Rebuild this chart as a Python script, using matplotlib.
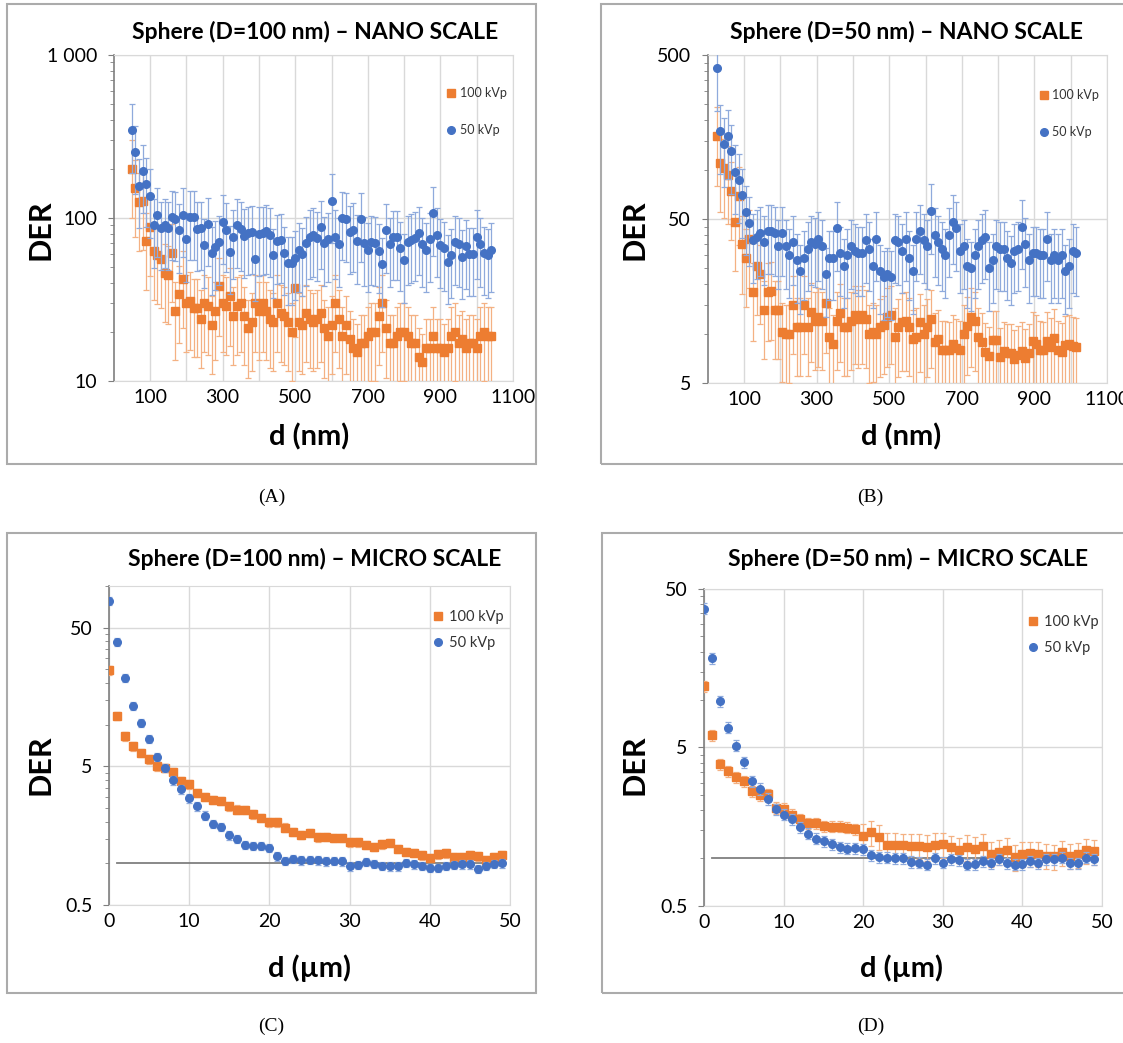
import matplotlib
matplotlib.use("Agg")
import matplotlib.pyplot as plt
from matplotlib.lines import Line2D
from matplotlib.patches import Rectangle
from matplotlib.ticker import FixedLocator, FixedFormatter, LogLocator, NullFormatter

plt.rcParams['font.family'] = ['Lato', 'DejaVu Sans']

W, H = 1123, 1043
ORANGE = "#ED7D31"
BLUE = "#4472C4"
ORANGE_ERR = "#F4B183"
BLUE_ERR = "#8FAADC"

# ---- (A) sphere D=100 nm, nano scale: d in nm
d_a = list(range(50, 1050, 10))
kvp100_a = [200, 152, 126, 127, 72, 88, 63, 59, 56, 46,
            45, 61, 27, 34, 42, 30, 31, 28, 28, 24,
            30, 29, 22, 27, 38, 30, 29, 33, 25, 29,
            30, 25, 21, 23, 30, 27, 30, 27, 24, 23,
            30, 26, 25, 23, 20, 37, 23, 22, 26, 24,
            23, 24, 26, 21, 19, 22, 30, 24, 19, 22,
            18, 16, 15, 17, 17, 19, 20, 20, 25, 30,
            21, 17, 17, 19, 20, 20, 19, 17, 17, 14,
            13, 16, 16, 19, 16, 16, 15, 16, 19, 20,
            17, 18, 16, 17, 17, 16, 19, 20, 19, 19]
kvp50_a = [345, 254, 158, 194, 161, 137, 90, 105, 87, 90,
           87, 101, 99, 84, 105, 74, 101, 101, 86, 87,
           68, 92, 61, 66, 71, 95, 85, 62, 77, 90,
           86, 78, 81, 82, 56, 80, 81, 83, 79, 59,
           72, 73, 61, 53, 53, 57, 64, 60, 70, 77,
           79, 75, 88, 70, 74, 128, 77, 69, 100, 98,
           82, 85, 72, 98, 70, 64, 71, 70, 63, 52,
           84, 69, 76, 76, 65, 55, 71, 73, 75, 81,
           69, 64, 74, 107, 79, 68, 65, 54, 59, 71,
           69, 58, 67, 60, 60, 77, 69, 61, 59, 64]
err100_a = [0.5] * len(d_a)
err50_a = [0.45] * len(d_a)

# ---- (B) sphere D=50 nm, nano scale: d in nm
d_b = list(range(25, 1025, 10))
kvp100_b = [160, 110, 102, 93, 74, 48, 69, 35, 29, 38,
            18, 26, 23, 14, 18, 18.3, 14, 14, 10.2, 9.9,
            10, 15, 11, 11, 15, 11, 13.5, 12, 12.6, 12,
            15.3, 9.5, 8.6, 12, 13.4, 11, 11, 12, 13, 12.3,
            13, 12.3, 10, 10.2, 9.9, 10.9, 11.3, 12.6, 13, 9.6,
            10.9, 11.8, 11.9, 11, 9.3, 9.6, 11.7, 9.9, 10.9, 12.3,
            8.9, 9.3, 8.0, 8.0, 7.9, 8.7, 8.2, 8.0, 9.9, 11.2,
            12.6, 11.9, 9.6, 8.9, 7.7, 7.3, 9.2, 9.1, 7.2, 7.8,
            7.6, 7.6, 7.0, 7.4, 7.8, 7.1, 7.6, 9.0, 8.6, 8.0,
            7.9, 9.0, 8.3, 9.4, 8.0, 7.7, 8.5, 8.7, 8.4, 8.3]
kvp50_b = [417, 171, 143, 160, 129, 97, 86, 70, 55, 47,
           37, 39, 41, 36, 42, 42, 41, 34, 41, 34,
           30, 36, 28, 24, 29, 33, 36, 35, 38, 34,
           23, 29, 29, 44, 31, 26, 30, 34, 32, 31,
           31, 37, 33, 26, 38, 24, 22, 23, 22, 37,
           36, 32, 38, 29, 24, 38, 42, 37, 34, 56,
           40, 36, 33, 30, 40, 48, 44, 32, 34, 26,
           25, 30, 34, 37, 39, 25, 28, 34, 33, 33,
           29, 27, 32, 33, 45, 35, 28, 31, 31, 30,
           30, 38, 28, 30, 28, 30, 24, 26, 32, 31]
err100_b = [0.5] * len(d_b)
err50_b = [0.45] * len(d_b)

# ---- (C) sphere D=100 nm, micro scale: d in um
d_c = list(range(0, 50))
kvp100_c = [24.7, 11.6, 8.24, 6.97, 6.24, 5.61, 5.0, 4.89, 4.58, 3.90,
            3.71, 3.23, 3.02, 2.87, 2.82, 2.58, 2.44, 2.43, 2.26, 2.12,
            1.98, 1.97, 1.81, 1.68, 1.61, 1.66, 1.54, 1.55, 1.53, 1.53,
            1.42, 1.42, 1.36, 1.31, 1.37, 1.40, 1.27, 1.21, 1.19, 1.14,
            1.09, 1.16, 1.18, 1.11, 1.11, 1.14, 1.12, 1.05, 1.11, 1.14]
kvp50_c = [78.5, 39.6, 21.8, 13.6, 10.3, 7.9, 5.84, 4.87, 3.96, 3.41,
           2.95, 2.57, 2.21, 1.93, 1.83, 1.59, 1.50, 1.36, 1.33, 1.33,
           1.29, 1.12, 1.04, 1.08, 1.05, 1.06, 1.05, 1.03, 1.04, 1.03,
           0.95, 0.97, 1.02, 0.99, 0.96, 0.95, 0.95, 1.01, 0.98, 0.96,
           0.93, 0.93, 0.96, 0.97, 0.98, 0.98, 0.91, 0.96, 0.99, 1.00]
err100_c = [0.07] * len(d_c)
err50_c = [0.07] * len(d_c)

# ---- (D) sphere D=50 nm, micro scale: d in um
d_d = list(range(0, 50))
kvp100_d = [12.1, 5.98, 3.90, 3.54, 3.25, 3.07, 2.64, 2.50, 2.54, 2.08,
            2.05, 1.88, 1.76, 1.67, 1.67, 1.60, 1.58, 1.58, 1.56, 1.53,
            1.39, 1.46, 1.37, 1.22, 1.22, 1.21, 1.20, 1.20, 1.18, 1.22,
            1.23, 1.17, 1.13, 1.18, 1.15, 1.20, 1.07, 1.10, 1.13, 1.02,
            1.07, 1.08, 1.07, 1.04, 1.03, 1.09, 1.04, 1.06, 1.12, 1.11]
kvp50_d = [37.4, 18.3, 9.8, 6.65, 5.12, 4.04, 3.05, 2.74, 2.37, 2.04,
           1.88, 1.77, 1.57, 1.43, 1.33, 1.28, 1.23, 1.18, 1.15, 1.16,
           1.14, 1.05, 1.02, 1.01, 1.00, 1.00, 0.95, 0.94, 0.91, 1.00,
           0.94, 0.99, 0.97, 0.91, 0.92, 0.96, 0.93, 0.99, 0.93, 0.91,
           0.92, 0.96, 0.93, 0.99, 0.99, 1.01, 0.93, 0.93, 1.01, 0.99]
err100_d = [0.08] * 20 + [0.18] * 30
err50_d = [0.08] * len(d_d)

fig = plt.figure(figsize=(W / 100, H / 100), dpi=100)


def rect(x0, y0, x1, y1):
    return [x0 / W, 1 - y1 / H, (x1 - x0) / W, (y1 - y0) / H]


def fx(x):
    return x / W


def fy(y):
    return 1 - y / H


def panel(area, box, title, tx, ty, d, o, oe, b, be, xlim, xlabels_at, xgrid,
          ylim, yt, ylab, subs, xlabel, der_x, der_y, lab_y, leg, leg_fs,
          leg_sp, ms, cap, ref=False):
    # chart border
    fig.patches.append(Rectangle((fx(box[0]), fy(box[3])),
                                 (box[2] - box[0]) / W, (box[3] - box[1]) / H,
                                 transform=fig.transFigure, fill=False,
                                 ec="#ABABAB", lw=1.5))
    ax = fig.add_axes(rect(*area))
    ax.set_yscale("log")
    oerr = [v * f for v, f in zip(o, oe)]
    berr = [v * f for v, f in zip(b, be)]
    ax.errorbar(d, o, yerr=oerr, fmt="s", ms=ms, color=ORANGE, mec=ORANGE,
                ecolor=ORANGE_ERR, elinewidth=0.9, capsize=2.2, capthick=0.9,
                zorder=3)
    ax.errorbar(d, b, yerr=berr, fmt="o", ms=ms, color=BLUE, mec=BLUE,
                ecolor=BLUE_ERR, elinewidth=0.9, capsize=2.2, capthick=0.9,
                zorder=4)
    if ref:
        ax.plot([1, 49], [1, 1], color="#7F7F7F", lw=1.3, zorder=2)
    ax.set_xlim(*xlim)
    ax.set_ylim(*ylim)
    ax.set_xticks(xlabels_at)
    ax.set_xticklabels([str(v) for v in xlabels_at])
    ax.set_xticks(xgrid, minor=True)
    ax.yaxis.set_major_locator(FixedLocator(yt))
    ax.yaxis.set_major_formatter(FixedFormatter(ylab))
    ax.yaxis.set_minor_locator(LogLocator(base=10, subs=subs, numticks=50))
    ax.yaxis.set_minor_formatter(NullFormatter())
    ax.grid(axis="x", which="both", color="#D9D9D9", lw=1.0, zorder=0)
    ax.grid(axis="y", which="major", color="#D9D9D9", lw=1.0, zorder=0)
    ax.set_axisbelow(True)
    ax.tick_params(axis="x", which="both", length=0, labelsize=14, pad=6)
    ax.tick_params(axis="y", which="major", length=4, color="#7F7F7F",
                   labelsize=14, pad=8)
    ax.tick_params(axis="y", which="minor", length=3, color="#7F7F7F")
    for s in ("top", "right", "bottom"):
        ax.spines[s].set_color("#D9D9D9")
    ax.spines["left"].set_color("#7F7F7F")
    ax.spines["left"].set_linewidth(1.2)

    fig.text(fx(tx), fy(ty), title, ha="center", va="center",
             fontsize=16.5, fontweight="bold")
    fig.text(fx(der_x), fy(der_y), "DER", ha="center", va="center",
             rotation=90, fontsize=22, fontweight="bold")
    fig.text(fx(tx - 6), fy(lab_y), xlabel, ha="center", va="center",
             fontsize=21, fontweight="bold")
    fig.text(fx((box[0] + min(box[2], 1161)) / 2), fy(box[3] + 33), cap,
             ha="center", va="center", fontsize=14,
             family=["Liberation Serif", "DejaVu Serif"])

    handles = [Line2D([0], [0], marker="s", ls="", ms=ms, color=ORANGE,
                      label="100 kVp"),
               Line2D([0], [0], marker="o", ls="", ms=ms, color=BLUE,
                      label="50 kVp")]
    lg = fig.legend(handles=handles, loc="upper left",
                    bbox_to_anchor=(fx(leg[0]), fy(leg[1])),
                    bbox_transform=fig.transFigure, frameon=False,
                    fontsize=leg_fs, labelspacing=leg_sp, handlelength=0.6,
                    handletextpad=0.4, borderpad=0, borderaxespad=0)
    for t in lg.get_texts():
        t.set_color("#333333")
    return ax


panel((113.7, 55, 513, 381), (7, 4, 536, 464),
      "Sphere (D=100 nm) – NANO SCALE", 315, 32,
      d_a, kvp100_a, err100_a, kvp50_a, err50_a,
      (0, 1100), list(range(100, 1101, 200)), list(range(100, 1101, 100)),
      (10, 1000), [10, 100, 1000], ["10", "100", "1 000"], list(range(2, 10)),
      "d (nm)", 40, 230, 437, (447, 87), 9, 2.0, 5.5, "(A)")

panel((707.7, 55, 1107, 383), (601, 4, 1140, 464),
      "Sphere (D=50 nm) – NANO SCALE", 907, 32,
      d_b, kvp100_b, err100_b, kvp50_b, err50_b,
      (0, 1100), list(range(100, 1101, 200)), list(range(100, 1101, 100)),
      (5, 500), [5, 50, 500], ["5", "50", "500"],
      [1, 1.5, 2, 2.5, 3, 3.5, 4, 4.5],
      "d (nm)", 635, 230, 437, (1040, 89), 9, 2.0, 5.5, "(B)")

panel((109, 586, 510, 905), (7, 533, 536, 993),
      "Sphere (D=100 nm) – MICRO SCALE", 315, 559,
      d_c, kvp100_c, err100_c, kvp50_c, err50_c,
      (0, 50), list(range(0, 51, 10)), list(range(0, 51, 10)),
      (0.5, 100), [0.5, 5, 50], ["0.5", "5", "50"],
      [1, 1.5, 2, 2.5, 3, 3.5, 4, 4.5],
      "d (µm)", 40, 765, 968, (434, 610), 10.5, 0.8, 5.5, "(C)", ref=True)

panel((704.3, 588.7, 1102, 906), (602, 533, 1140, 993),
      "Sphere (D=50 nm) – MICRO SCALE", 908, 559,
      d_d, kvp100_d, err100_d, kvp50_d, err50_d,
      (0, 50), list(range(0, 51, 10)), list(range(0, 51, 10)),
      (0.5, 50), [0.5, 5, 50], ["0.5", "5", "50"],
      [1, 1.5, 2, 2.5, 3, 3.5, 4, 4.5],
      "d (µm)", 635, 765, 968, (1029, 615), 10.5, 0.8, 5.5, "(D)", ref=True)

fig.savefig("out.png", dpi=100, facecolor="white")
